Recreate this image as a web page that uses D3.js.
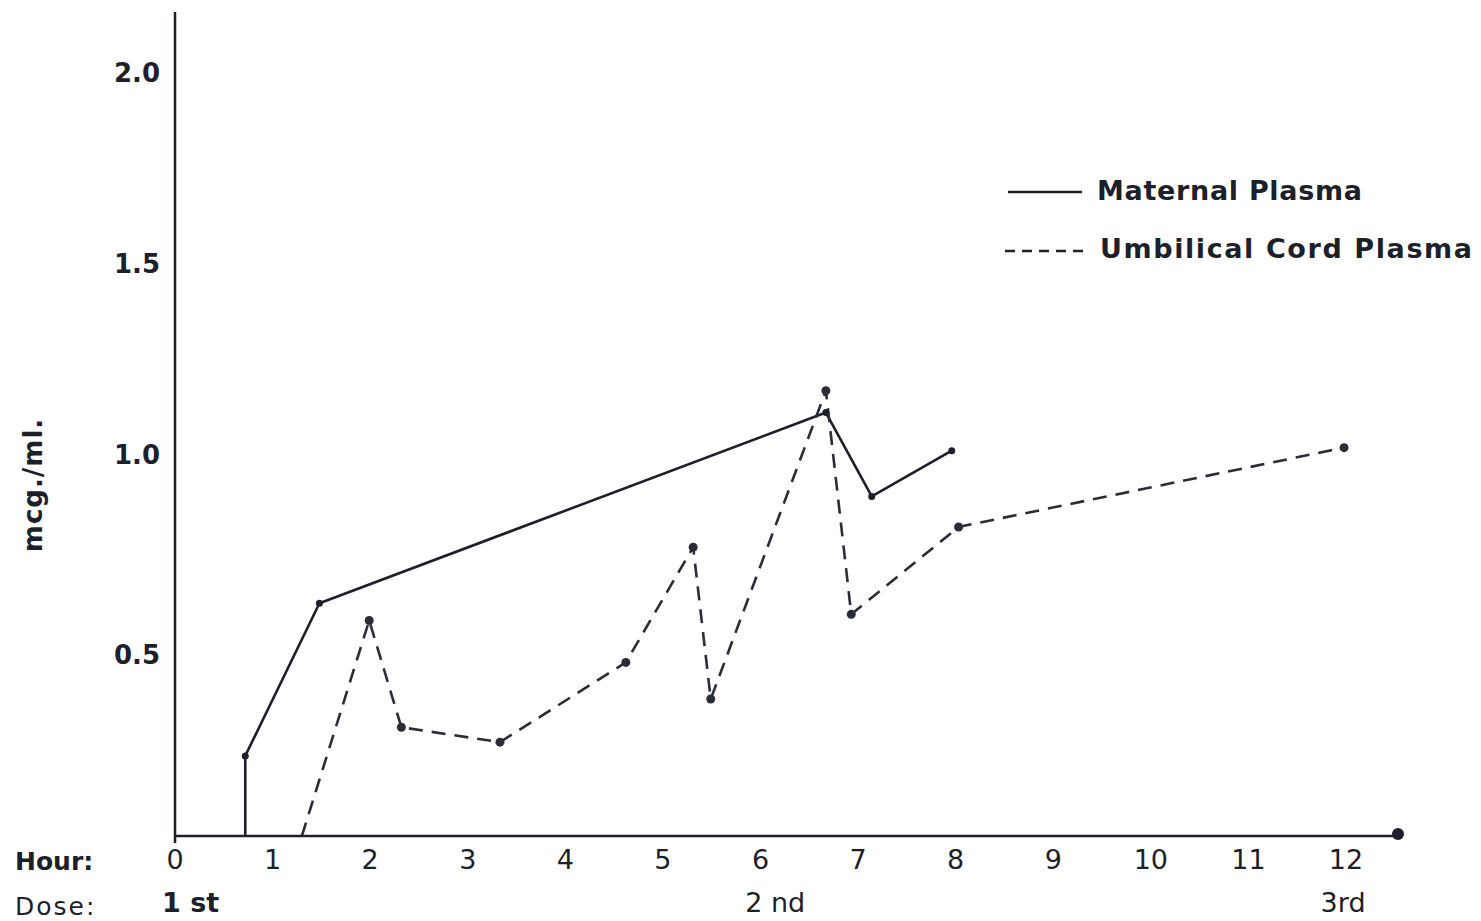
<!DOCTYPE html>
<html><head><meta charset="utf-8">
<script src="https://cdn.jsdelivr.net/npm/d3@7"></script>
<style>body{margin:0;background:#fff}svg{display:block}text{font-family:"DejaVu Sans",sans-serif;fill:#1d1f2a}</style>
</head><body><svg id="c" width="1481" height="921"></svg>
<script>
const hourTicks = [0,1,2,3,4,5,6,7,8,9,10,11,12];
const yTicks = [0.5,1.0,1.5,2.0];
const yTickLabels = ["0.5","1.0","1.5","2.0"];
const maternalHours = [0.72,0.72,1.48,6.67,7.14,7.96];
const maternalValues = [0,0.21,0.61,1.11,0.89,1.01];
const maternalMarked = [false,true,true,true,true,true];
const cordHours = [1.30,1.99,2.32,3.33,4.62,5.31,5.49,6.67,6.93,8.03,11.98];
const cordValues = [0,0.565,0.285,0.246,0.455,0.757,0.359,1.167,0.581,0.81,1.018];
const cordMarked = [false,true,true,true,true,true,true,true,true,true,true];
const doseLabels = ["1 st","2 nd","3rd"];
const doseHours = [0.16,6.15,11.97];
const seriesNames = ["Maternal Plasma","Umbilical Cord Plasma"];

const svg = d3.select("#c");
const ink = "#1d1f2a";
const x = d3.scaleLinear().domain([0,12]).range([175,1346]);
const y = d3.scaleLinear().domain([0,2]).range([836,73]);

// axes
svg.append("line").attr("x1",175).attr("x2",175).attr("y1",12).attr("y2",843).attr("stroke",ink).attr("stroke-width",2.5);
svg.append("line").attr("x1",175).attr("x2",1398).attr("y1",836).attr("y2",836).attr("stroke",ink).attr("stroke-width",2.5);
svg.append("circle").attr("cx",1398).attr("cy",834).attr("r",6).attr("fill",ink);

// x tick labels
svg.append("g").selectAll("text").data(hourTicks).join("text")
  .attr("x",d=>x(d)).attr("y",869).attr("text-anchor","middle")
  .attr("font-size",27).text(d=>d);
svg.append("text").attr("x",15).attr("y",870).attr("font-size",25).attr("font-weight","bold").text("Hour:");
svg.append("text").attr("x",15).attr("y",915).attr("font-size",25).attr("letter-spacing",2).text("Dose:");
svg.append("g").selectAll("text").data(doseLabels).join("text")
  .attr("x",(d,i)=>x(doseHours[i])).attr("y",912).attr("text-anchor","middle")
  .attr("font-size",27).attr("font-weight",(d,i)=>i===0?"bold":"normal").text(d=>d);

// y tick labels
svg.append("g").selectAll("text").data(yTicks).join("text")
  .attr("x",160).attr("y",d=>y(d)+(d===0.5?19:9)).attr("text-anchor","end")
  .attr("font-size",26).attr("font-weight","bold").text((d,i)=>yTickLabels[i]);
svg.append("text").attr("transform","translate(42,485) rotate(-90)").attr("text-anchor","middle")
  .attr("font-size",26).attr("font-weight","bold").attr("letter-spacing",1).text("mcg./ml.");

const line = d3.line().x(d=>x(d[0])).y(d=>y(d[1]));
const mData = maternalHours.map((h,i)=>[h,maternalValues[i],maternalMarked[i]]);
const cData = cordHours.map((h,i)=>[h,cordValues[i],cordMarked[i]]);
svg.append("path").datum(mData).attr("d",line).attr("fill","none").attr("stroke",ink).attr("stroke-width",2.6).attr("stroke-linejoin","round");
svg.append("path").datum(cData).attr("d",line).attr("fill","none").attr("stroke","#2a2c38").attr("stroke-width",2.6).attr("stroke-dasharray","14,9");
svg.append("g").selectAll("circle").data(mData.filter(d=>d[2])).join("circle")
  .attr("cx",d=>x(d[0])).attr("cy",d=>y(d[1])).attr("r",3.5).attr("fill",ink);
svg.append("g").selectAll("circle").data(cData.filter(d=>d[2])).join("circle")
  .attr("cx",d=>x(d[0])).attr("cy",d=>y(d[1])).attr("r",4.5).attr("fill","#2a2c38");

// legend
const lg = svg.append("g");
lg.append("line").attr("x1",1008).attr("x2",1082).attr("y1",192).attr("y2",192).attr("stroke",ink).attr("stroke-width",2.6);
lg.append("line").attr("x1",1005).attr("x2",1083).attr("y1",251).attr("y2",251).attr("stroke",ink).attr("stroke-width",2.6).attr("stroke-dasharray","10,7");
lg.append("text").attr("x",1097).attr("y",200).attr("font-size",27).attr("font-weight","bold").attr("textLength",265).attr("lengthAdjust","spacing").text(seriesNames[0]);
lg.append("text").attr("x",1100).attr("y",258).attr("font-size",27).attr("font-weight","bold").attr("textLength",372).attr("lengthAdjust","spacing").text(seriesNames[1]);
</script></body></html>
